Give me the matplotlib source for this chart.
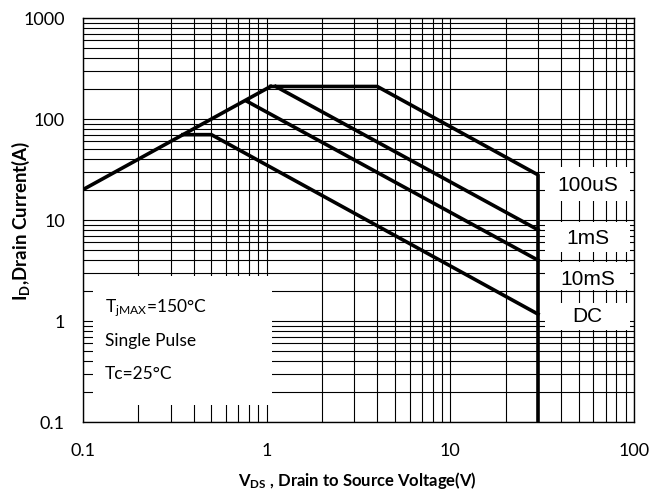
import matplotlib
matplotlib.use('Agg')

import matplotlib.pyplot as plt
from matplotlib.patches import Rectangle

plt.rcParams['font.family'] = ['Lato', 'DejaVu Sans']
plt.rcParams['mathtext.default'] = 'regular'

# SOA boundaries (V_DS in V, I_D in A)
rds_v = [0.1, 1.05]
rds_i = [20, 210]
us100_v = [1.05, 4.0, 30, 30]
us100_i = [210, 210, 28, 0.1]
ms1_v = [1.12, 30]
ms1_i = [210, 8.0]
ms10_v = [0.78, 30]
ms10_i = [150, 4.0]
dc_v = [0.35, 0.5, 30]
dc_i = [70, 70, 1.17]

x_ticks = [0.1, 1, 10, 100]
x_ticklabels = ['0.1', '1', '10', '100']
y_ticks = [0.1, 1, 10, 100, 1000]
y_ticklabels = ['0.1', '1', '10', '100', '1000']

curve_labels = ['100uS', '1mS', '10mS', 'DC']
label_y = [22.2, 6.6, 2.55, 1.1]
label_boxes = [(15.5, 33.5), (4.8, 9.6), (2.05, 3.85), (0.82, 1.5)]

note_lines = ['T$_{jMAX}$=150\u00b0C', 'Single Pulse', 'Tc=25\u00b0C']
note_y = [1.35, 0.63, 0.30]

fig = plt.figure(figsize=(6.61, 4.91), dpi=100)
ax = fig.add_axes([0.1256, 0.1405, 0.8336, 0.8228])
ax.set_xscale('log')
ax.set_yscale('log')
ax.set_xlim(0.1, 100)
ax.set_ylim(0.1, 1000)

ax.set_axisbelow(True)
ax.grid(which='both', color='black', linewidth=0.8)

# white boxes behind the annotations
for lo, hi in label_boxes:
    ax.add_patch(Rectangle((32.7, lo), 95 - 32.7, hi - lo, facecolor='white',
                           edgecolor='none', zorder=1))
ax.add_patch(Rectangle((0.113, 0.147), 1.07 - 0.113, 2.79 - 0.147,
                       facecolor='white', edgecolor='none', zorder=1))

lw = 2.6
ax.plot(rds_v, rds_i, color='black', lw=lw, zorder=3)
ax.plot(us100_v, us100_i, color='black', lw=lw, zorder=3)
ax.plot(ms1_v, ms1_i, color='black', lw=lw, zorder=3)
ax.plot(ms10_v, ms10_i, color='black', lw=lw, zorder=3)
ax.plot(dc_v, dc_i, color='black', lw=lw, zorder=3)

for txt, yv in zip(curve_labels, label_y):
    ax.text(56, yv, txt, ha='center', va='center', fontsize=15,
            family=['Liberation Sans Narrow', 'Liberation Sans'], zorder=4)

for txt, yv in zip(note_lines, note_y):
    ax.text(0.132, yv, txt, ha='left', va='center', fontsize=12.5, zorder=4)

ax.set_xticks(x_ticks)
ax.set_xticklabels(x_ticklabels)
ax.set_yticks(y_ticks)
ax.set_yticklabels(y_ticklabels)
ax.tick_params(which='both', length=0, labelsize=13)
ax.tick_params(axis='x', pad=15)
ax.tick_params(axis='y', pad=13)
for s in ax.spines.values():
    s.set_linewidth(1.0)
    s.set_color('black')

fig.text(0.54, 0.022, 'V$_{DS}$ , Drain to Source Voltage(V)', ha='center',
         va='center', fontsize=12, fontweight='bold')
fig.text(0.032, 0.55, 'I$_D$,Drain Current(A)', ha='center', va='center',
         rotation=90, fontsize=13.5, fontweight='bold')

fig.savefig('out.png', dpi=100)
